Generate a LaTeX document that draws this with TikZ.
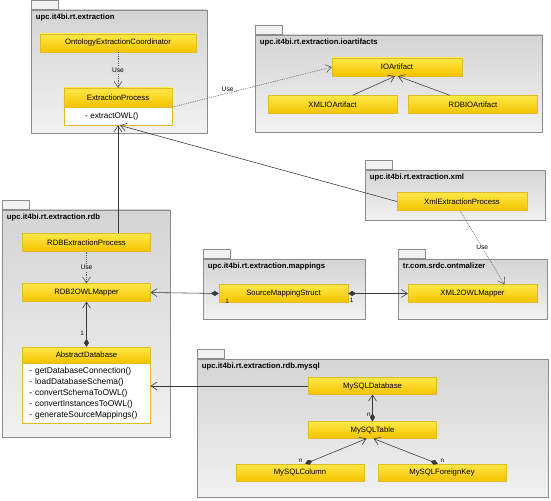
\documentclass[tikz,border=0pt]{standalone}
\usepackage{fontspec}
\setmainfont{Liberation Sans}
\usetikzlibrary{arrows.meta}
\usetikzlibrary{shadows}

\definecolor{pkgtop}{RGB}{212,212,212}
\definecolor{pkgbot}{RGB}{241,241,241}
\definecolor{pkgmid}{RGB}{221,221,221}
\definecolor{pkgline}{RGB}{140,140,140}
\definecolor{clstop}{RGB}{255,233,72}
\definecolor{clsbot}{RGB}{244,194,0}
\definecolor{clsline}{RGB}{226,186,40}
\definecolor{wire}{RGB}{55,55,55}

\begin{document}
\begin{tikzpicture}[x=0.5mm, y=-0.5mm,
    pkg/.style={draw=pkgline, line width=0.6pt, top color=pkgtop, bottom color=pkgbot, inner sep=0pt,
      drop shadow={shadow xshift=0.6mm, shadow yshift=-0.6mm, opacity=0.3}},
    pkgtab/.style={draw=pkgline, line width=0.6pt, fill=pkgbot, inner sep=0pt, minimum width=13.5mm, minimum height=4.5mm, anchor=south west},
    pkgname/.style={font=\bfseries\fontsize{11}{13}\selectfont, inner sep=0pt, anchor=north west},
    cls/.style={draw=clsline, line width=0.4pt, top color=clstop, bottom color=clsbot, inner sep=0pt,
      minimum width=64mm, minimum height=9mm, font=\fontsize{11}{13}\selectfont,
      drop shadow={shadow xshift=0.4mm, shadow yshift=-0.4mm, opacity=0.25}},
    ops/.style={draw=clsline, line width=0.4pt, fill=white, inner ysep=0pt, anchor=north, align=left,
      font=\fontsize{11.5}{15.5}\selectfont, drop shadow={shadow xshift=0.4mm, shadow yshift=-0.4mm, opacity=0.25}},
    uses/.style={draw=wire!85, line width=0.8pt, dash pattern=on 1.2pt off 1.4pt, -{Straight Barb[length=3mm, width=4mm]}},
    assoc/.style={draw=wire, line width=0.8pt, -{Straight Barb[length=3mm, width=4mm]}},
    comp/.style={draw=wire, line width=0.8pt, {Diamond[length=4mm, width=2.5mm]}-{Straight Barb[length=3mm, width=4mm]}},
    uselbl/.style={font=\fontsize{9.5}{11}\selectfont, fill=pkgmid, inner sep=1pt},
    mult/.style={font=\fontsize{9}{10}\selectfont, inner sep=0.5pt}
  ]
      \useasboundingbox (0,0) rectangle (551,501);

      \node[pkg, minimum width=88mm, minimum height=61.5mm] (pExtraction) at (119,71.5) {};
      \node[pkgtab] (pExtractionTab) at (pExtraction.north west) {};
      \node[pkgname] (pExtractionName) at ([shift={(2.5mm,-1.8mm)}]pExtraction.north west) {upc.it4bi.rt.extraction};

      \node[pkg, minimum width=143.5mm, minimum height=48.5mm] (pIOArtifacts) at (398.5,83.5) {};
      \node[pkgtab] (pIOArtifactsTab) at (pIOArtifacts.north west) {};
      \node[pkgname] (pIOArtifactsName) at ([shift={(2.5mm,-1.8mm)}]pIOArtifacts.north west) {upc.it4bi.rt.extraction.ioartifacts};

      \node[pkg, minimum width=90mm, minimum height=25mm] (pXml) at (455,195) {};
      \node[pkgtab] (pXmlTab) at (pXml.north west) {};
      \node[pkgname] (pXmlName) at ([shift={(2.5mm,-1.8mm)}]pXml.north west) {upc.it4bi.rt.extraction.xml};

      \node[pkg, minimum width=81mm, minimum height=30mm] (pMappings) at (284,289) {};
      \node[pkgtab] (pMappingsTab) at (pMappings.north west) {};
      \node[pkgname] (pMappingsName) at ([shift={(2.5mm,-1.8mm)}]pMappings.north west) {upc.it4bi.rt.extraction.mappings};

      \node[pkg, minimum width=74.5mm, minimum height=30mm] (pOntmalizer) at (472.5,289) {};
      \node[pkgtab] (pOntmalizerTab) at (pOntmalizer.north west) {};
      \node[pkgname] (pOntmalizerName) at ([shift={(2.5mm,-1.8mm)}]pOntmalizer.north west) {tr.com.srdc.ontmalizer};

      \node[pkg, minimum width=84mm, minimum height=113.5mm] (pRdb) at (86,323.5) {};
      \node[pkgtab] (pRdbTab) at (pRdb.north west) {};
      \node[pkgname] (pRdbName) at ([shift={(2.5mm,-1.8mm)}]pRdb.north west) {upc.it4bi.rt.extraction.rdb};

      \node[pkg, minimum width=175.5mm, minimum height=69mm] (pMySQL) at (372.5,428) {};
      \node[pkgtab] (pMySQLTab) at (pMySQL.north west) {};
      \node[pkgname] (pMySQLName) at ([shift={(2.5mm,-1.8mm)}]pMySQL.north west) {upc.it4bi.rt.extraction.rdb.mysql};

      \node[cls, minimum width=78mm] (cOntologyCoord) at (118,43) {OntologyExtractionCoordinator};
      \node[cls, minimum width=54mm, minimum height=9.5mm] (cExtractionProc) at (118,97.5) {ExtractionProcess};
      \node[ops, text width=33mm, inner xsep=10.5mm, minimum height=9mm] (cExtractionOps) at (cExtractionProc.south) {- extractOWL()};

      \node[cls, minimum width=65mm] (cIOArtifact) at (397,67) {IOArtifact};
      \node[cls, minimum width=64.5mm] (cXMLIOArtifact) at (332.5,104.5) {XMLIOArtifact};
      \node[cls, minimum width=64.5mm] (cRDBIOArtifact) at (473,104.5) {RDBIOArtifact};

      \node[cls, minimum width=65mm] (cXmlExtraction) at (462,201.5) {XmlExtractionProcess};
      \node[cls, minimum width=64.5mm] (cSourceMapping) at (283.5,293.5) {SourceMappingStruct};
      \node[cls, minimum width=64.5mm] (cXML2OWL) at (472.5,293.5) {XML2OWLMapper};

      \node[cls] (cRDBExtraction) at (86.5,242.5) {RDBExtractionProcess};
      \node[cls] (cRDB2OWL) at (86.5,292.5) {RDB2OWLMapper};
      \node[cls, minimum height=8mm] (cAbstractDB) at (86.5,355) {AbstractDatabase};
      \node[ops, text width=57mm, inner xsep=3.5mm, minimum height=30mm, font=\fontsize{12}{15.5}\selectfont] (cAbstractDBOps) at (cAbstractDB.south)
        {- getDatabaseConnection()\\- loadDatabaseSchema()\\- convertSchemaToOWL()\\- convertInstancesToOWL()\\- generateSourceMappings()};

      \node[cls, minimum height=8.5mm] (cMySQLDatabase) at (372.5,386) {MySQLDatabase};
      \node[cls, minimum height=8.5mm] (cMySQLTable) at (372.5,430) {MySQLTable};
      \node[cls, minimum height=8.5mm] (cMySQLColumn) at (300,472.5) {MySQLColumn};
      \node[cls, minimum height=8.5mm] (cMySQLForeignKey) at (442,472.5) {MySQLForeignKey};

      \draw[uses] (cOntologyCoord) -- node[uselbl] {Use} (cExtractionProc);
      \draw[uses] (cExtractionProc.south east) -- node[uselbl, fill=none, pos=0.36, above, xshift=-1mm] {Use} (cIOArtifact.west);
      \draw[assoc] ([xshift=10mm]cXMLIOArtifact.north) -- ([xshift=-1mm]cIOArtifact.south);
      \draw[assoc] ([xshift=-11.5mm]cRDBIOArtifact.north) -- ([xshift=0.5mm]cIOArtifact.south);

      \draw[assoc] (cRDBExtraction.north -| cExtractionOps.south) -- (cExtractionOps.south);
      \draw[assoc] (cXmlExtraction.west) -- ([xshift=1mm]cExtractionOps.south);
      \draw[uses] ([xshift=-1mm]cXmlExtraction.south) -- node[uselbl, fill=white] {Use} ([xshift=16mm]cXML2OWL.north);

      \draw[uses] (cRDBExtraction) -- node[uselbl] {Use} (cRDB2OWL);
      \draw[comp] (cAbstractDB) -- node[mult, pos=0.3, left, xshift=-1mm] {1} (cRDB2OWL);

      \draw[comp] (cSourceMapping.west) -- node[mult, at start, anchor=north west, xshift=3mm, yshift=-2.6mm] {1} (cRDB2OWL.east);
      \draw[comp] (cSourceMapping.east) -- node[mult, at start, anchor=north west, xshift=0.6mm, yshift=-2.2mm] {1} (cXML2OWL.west);

      \draw[assoc] (cMySQLDatabase.west) -- (cAbstractDBOps.east |- cMySQLDatabase.west);
      \draw[comp] (cMySQLTable) -- node[mult, at start, anchor=south east, xshift=-0.6mm, yshift=2mm] {n} (cMySQLDatabase);
      \draw[comp] ([xshift=2.5mm]cMySQLColumn.north) -- node[mult, at start, anchor=south east, xshift=-1mm, yshift=0.5mm] {n} ([xshift=-3mm]cMySQLTable.south);
      \draw[comp] ([xshift=-2mm]cMySQLForeignKey.north) -- node[mult, at start, anchor=south west, xshift=1mm, yshift=0.5mm] {n} ([xshift=0.5mm]cMySQLTable.south);
    \end{tikzpicture}
\end{document}
